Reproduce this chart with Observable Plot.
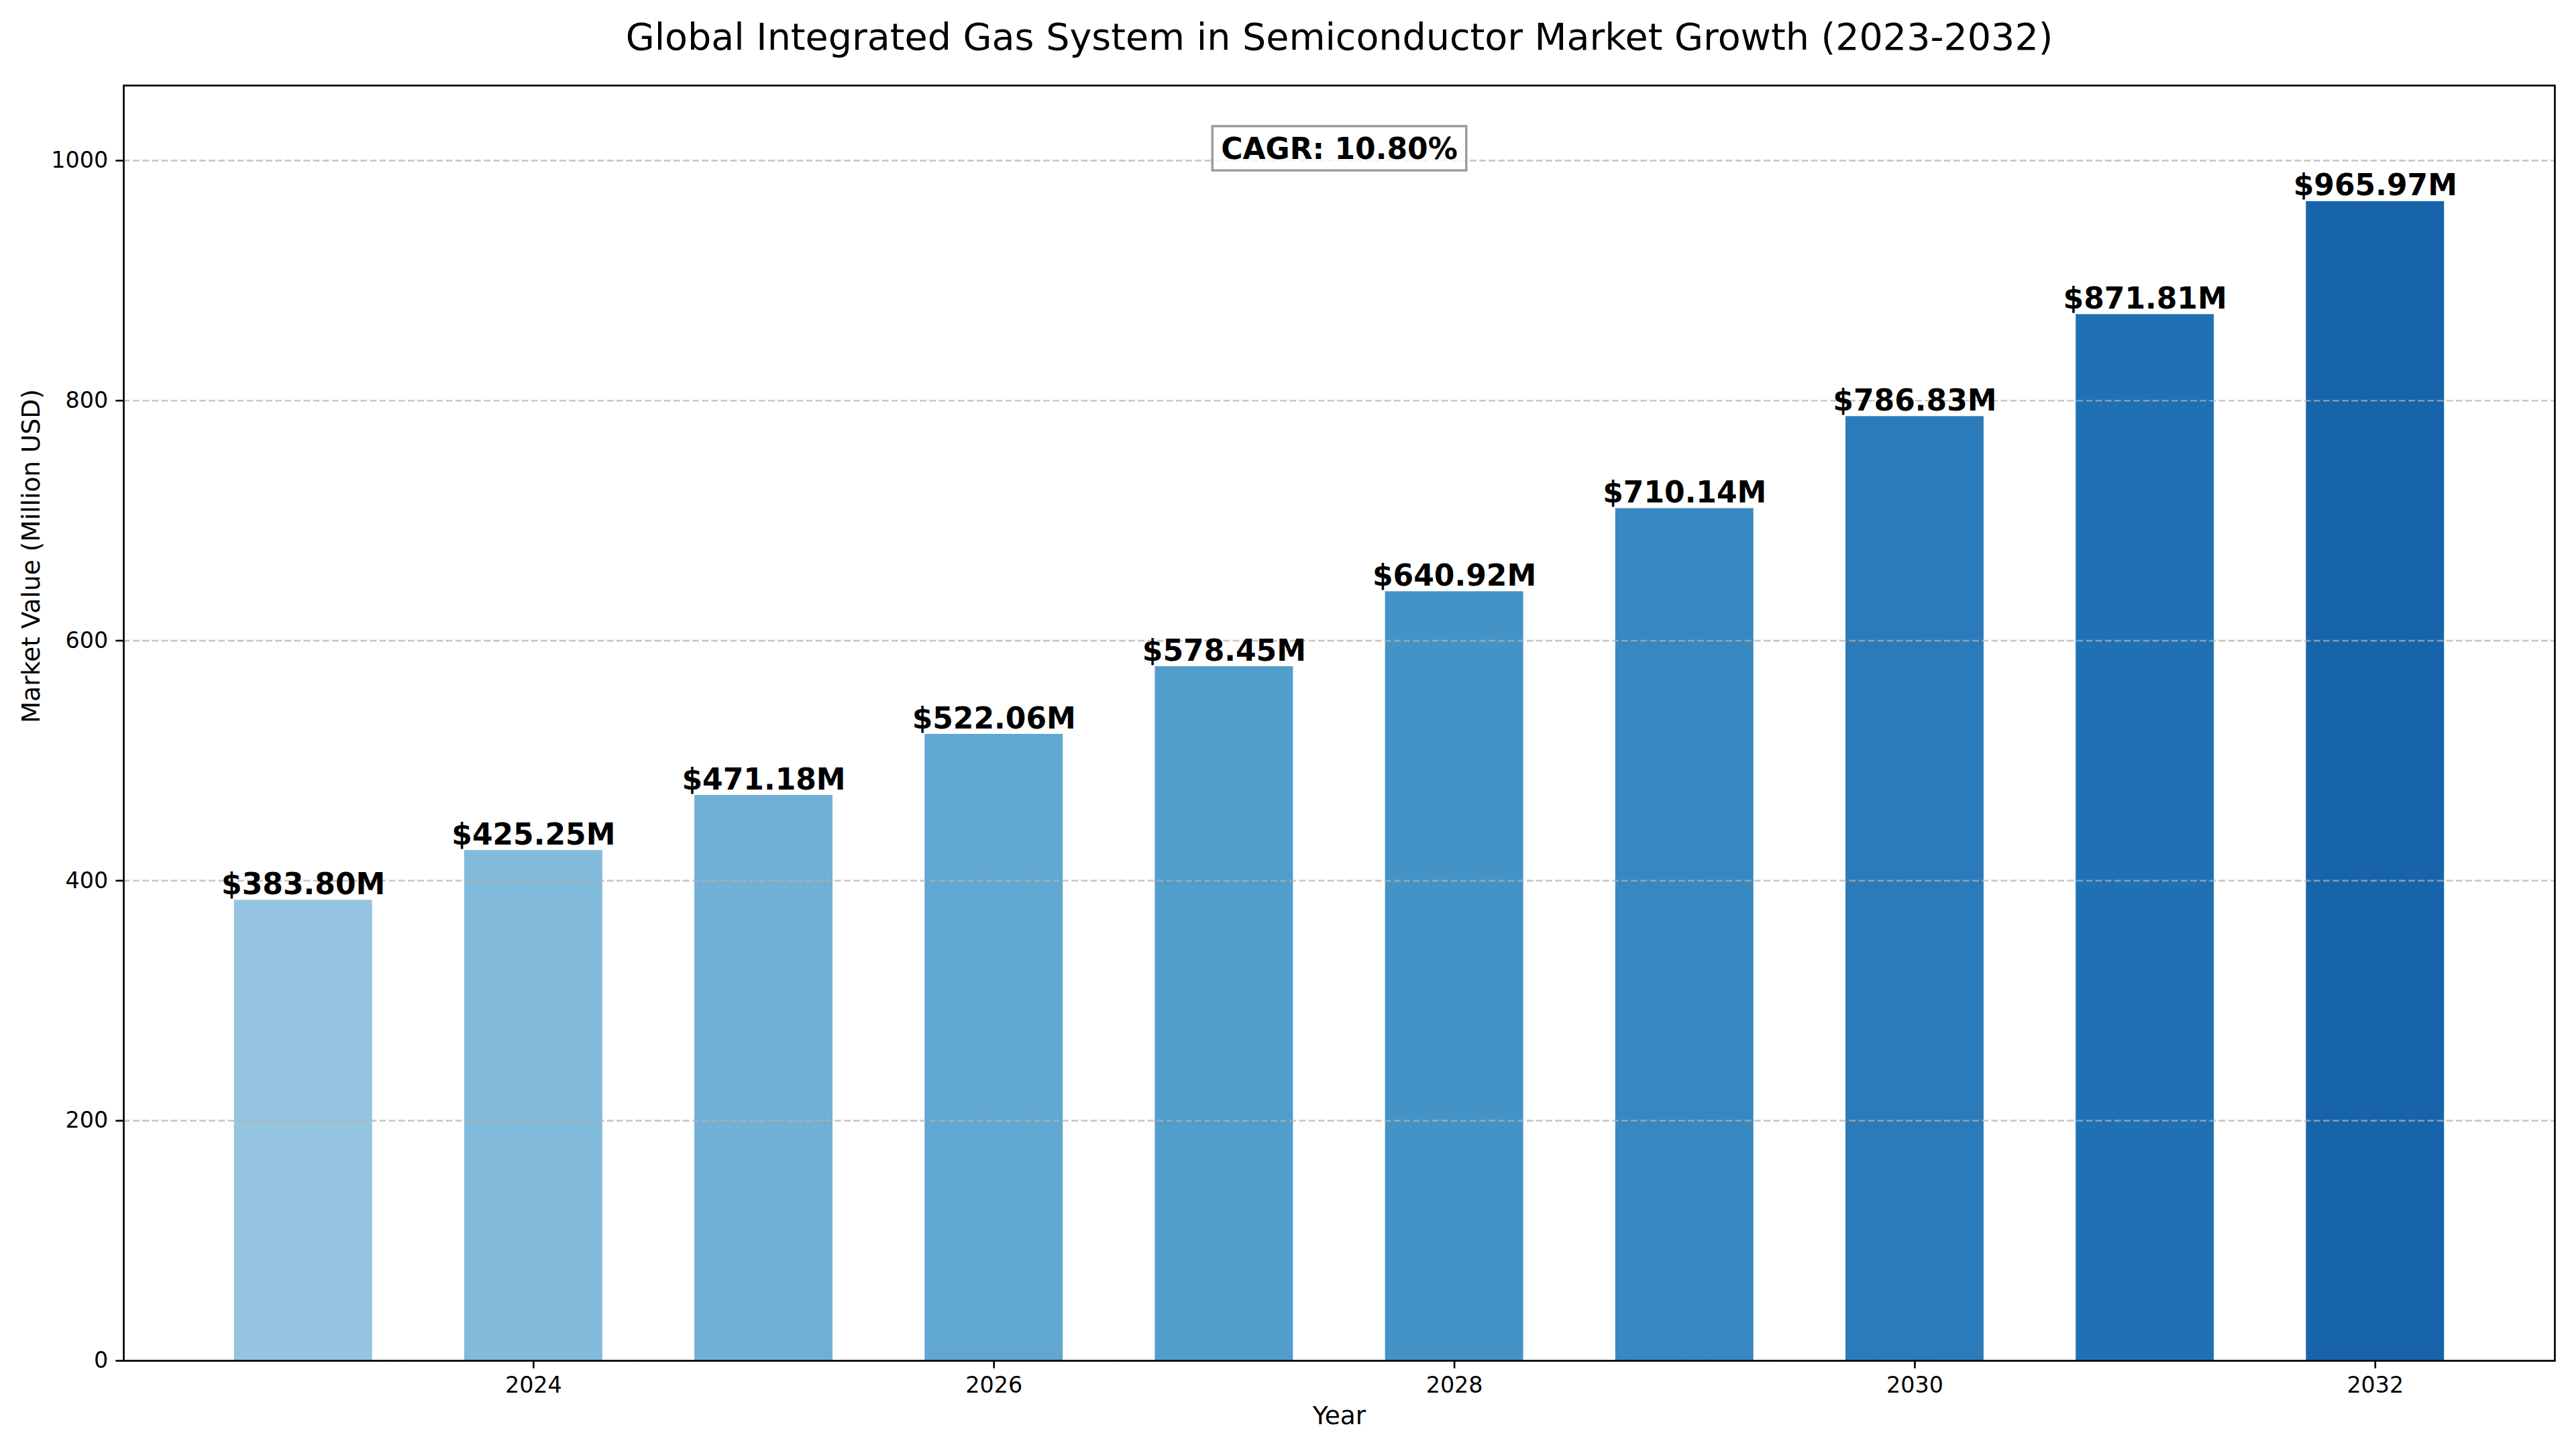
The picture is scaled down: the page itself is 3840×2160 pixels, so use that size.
<!DOCTYPE html>
<html>
<head>
<meta charset="utf-8">
<script src="https://cdn.jsdelivr.net/npm/d3@7"></script>
<script src="https://cdn.jsdelivr.net/npm/@observablehq/plot@0.6"></script>
<style>
  html, body { margin: 0; padding: 0; background: #fff; }
  #chart svg { display: block; }
</style>
</head>
<body>
<div id="chart"></div>
<script>
// ---- data ----
const years = [2023, 2024, 2025, 2026, 2027, 2028, 2029, 2030, 2031, 2032];
const values = [383.80, 425.25, 471.18, 522.06, 578.45, 640.92, 710.14, 786.83, 871.81, 965.97];
const xTicks = [2024, 2026, 2028, 2030, 2032];
const yTicks = [0, 200, 400, 600, 800, 1000];
const titleText = "Global Integrated Gas System in Semiconductor Market Growth (2023-2032)";
const xLabel = "Year";
const yLabel = "Market Value (Million USD)";
const cagrLabel = "CAGR: 10.80%";

const data = years.map((year, i) => ({year, value: values[i], i}));

// matplotlib "Blues" colormap (piecewise linear between ColorBrewer stops)
const bluesStops = ["#f7fbff", "#deebf7", "#c6dbef", "#9ecae1", "#6baed6", "#4292c6", "#2171b5", "#08519c", "#08306b"];
const blues = d3.scaleLinear().domain(d3.range(9).map(k => k / 8)).range(bluesStops).interpolate(d3.interpolateRgb);
const barColor = d => blues(0.4 + 0.4 * d.i / (years.length - 1));

// ---- layout ----
const W = 3840, H = 2160;
const pt = 240 / 72;
const halfBar = 0.3;
const xPad = ((years[years.length - 1] + halfBar) - (years[0] - halfBar)) * 0.05;
const xDomain = [years[0] - halfBar - xPad, years[years.length - 1] + halfBar + xPad];
const yDomain = [0, d3.max(values) * 1.1];

const chart = Plot.plot({
  width: W,
  height: H,
  marginTop: 127,
  marginBottom: 132,
  marginLeft: 184,
  marginRight: 32,
  style: {fontFamily: "'DejaVu Sans', sans-serif", background: "#fff", color: "#000", overflow: "visible"},
  x: {type: "linear", domain: xDomain},
  y: {type: "linear", domain: yDomain},
  marks: [
    Plot.rectY(data, {
      x1: d => d.year - halfBar,
      x2: d => d.year + halfBar,
      y1: 0,
      y2: "value",
      fill: barColor
    }),
    Plot.gridY(yTicks, {
      stroke: "#b0b0b0",
      strokeOpacity: 0.7,
      strokeWidth: 0.8 * pt,
      strokeDasharray: `${3.7 * 0.8 * pt},${1.6 * 0.8 * pt}`
    }),
    Plot.text(data, {
      x: "year",
      y: "value",
      text: d => `$${d.value.toFixed(2)}M`,
      dy: -9,
      lineAnchor: "bottom",
      fontSize: 44,
      fontWeight: "bold",
      fill: "#000"
    }),
    Plot.axisX({
      ticks: xTicks,
      tickFormat: d => String(d),
      tickSize: 3.5 * pt,
      tickPadding: 3.5 * pt,
      fontSize: 10 * pt,
      strokeWidth: 0.8 * pt,
      label: null
    }),
    Plot.axisY({
      ticks: yTicks,
      tickFormat: d => String(d),
      tickSize: 3.5 * pt,
      tickPadding: 3.5 * pt,
      fontSize: 10 * pt,
      strokeWidth: 0.8 * pt,
      label: null
    }),
    Plot.text([xLabel], {frameAnchor: "bottom", dy: 94, lineAnchor: "bottom", fontSize: 37.5, text: d => d, fill: "#000"}),
    Plot.text([yLabel], {frameAnchor: "left", dx: -126, rotate: -90, lineAnchor: "bottom", fontSize: 37.5, text: d => d, fill: "#000"}),
    Plot.text([titleText], {frameAnchor: "top", dy: -54, lineAnchor: "bottom", fontSize: 55.5, text: d => d, fill: "#000"}),
    Plot.text([cagrLabel], {frameAnchor: "top", dy: 109, lineAnchor: "bottom", fontSize: 44, fontWeight: "bold", text: d => d, fill: "#000"}),
    Plot.frame({stroke: "#000", strokeWidth: 0.8 * pt})
  ]
});

document.getElementById("chart").append(chart);

// box behind the CAGR annotation, sized from the rendered text
const cagrEl = Array.from(chart.querySelectorAll("text")).find(t => t.textContent === cagrLabel);
if (cagrEl) {
  const bb = cagrEl.getBBox();
  const padX = 13, padY = 7.5;
  const rect = document.createElementNS("http://www.w3.org/2000/svg", "rect");
  rect.setAttribute("x", bb.x - padX);
  rect.setAttribute("y", bb.y - padY);
  rect.setAttribute("width", bb.width + 2 * padX);
  rect.setAttribute("height", bb.height + 2 * padY);
  rect.setAttribute("fill", "#fff");
  rect.setAttribute("fill-opacity", 0.8);
  rect.setAttribute("stroke", "#808080");
  rect.setAttribute("stroke-opacity", 0.8);
  rect.setAttribute("stroke-width", 1 * pt);
  const tr = cagrEl.getAttribute("transform");
  if (tr) rect.setAttribute("transform", tr);
  cagrEl.parentNode.insertBefore(rect, cagrEl);
}
</script>
</body>
</html>
